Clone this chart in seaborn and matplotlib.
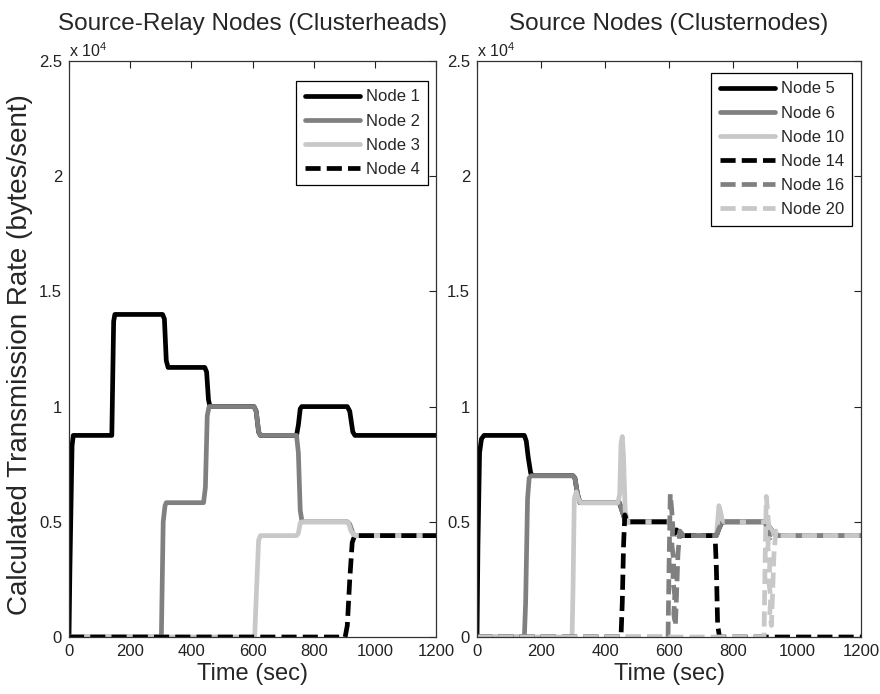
import numpy as np
import pandas as pd
import matplotlib
matplotlib.use("Agg")
import matplotlib.pyplot as plt
from matplotlib.ticker import FuncFormatter, MultipleLocator
import seaborn as sns

# ---- Source-relay nodes (clusterheads): time (s) / rate (bytes/s) ----
node1_t = [0, 3, 10, 14, 140, 146, 150, 306, 312, 318, 324, 444, 450, 456, 461,
           605, 612, 620, 626, 744, 750, 756, 761, 910, 918, 928, 935, 1200]
node1_v = [0, 3000, 8300, 8750, 8750, 13700, 14000, 14000, 13800, 12000, 11700,
           11700, 11500, 10300, 10000, 10000, 9800, 8900, 8750, 8750, 9200, 9900,
           10000, 10000, 9800, 8900, 8750, 8750]

node2_t = [0, 302, 308, 314, 318, 440, 446, 452, 458, 605, 612, 620, 626, 744,
           750, 756, 762, 910, 918, 928, 935, 1200]
node2_v = [0, 0, 5000, 5700, 5830, 5830, 6500, 9600, 10000, 10000, 9800, 8900,
           8750, 8750, 8000, 5500, 5000, 5000, 4900, 4500, 4400, 4400]

node3_t = [0, 607, 613, 620, 626, 744, 750, 756, 762, 908, 914, 922, 935, 1200]
node3_v = [0, 0, 2000, 4200, 4400, 4400, 4500, 4950, 5000, 5000, 4950, 4600,
           4400, 4400]

node4_t = [0, 903, 910, 918, 926, 934, 1200]
node4_v = [0, 0, 500, 2500, 4100, 4400, 4400]

# ---- Source nodes (clusternodes) ----
shared_t = [600, 612, 625, 640, 748, 756, 764, 772, 900, 912, 928, 942, 1200]
shared_v = [5000, 4700, 4450, 4400, 4400, 4700, 4950, 5000, 5000, 4800, 4500,
            4400, 4400]

node5_t = [0, 3, 8, 14, 22, 148, 154, 160, 168, 175, 300, 306, 314, 322, 445,
           455, 462, 468] + shared_t
node5_v = [0, 4000, 8000, 8600, 8750, 8750, 8500, 7800, 7100, 7000, 7000, 6900,
           6200, 5830, 5830, 5400, 5100, 5000] + shared_v

node6_t = [0, 148, 152, 158, 163, 170, 300, 306, 314, 322, 445, 455, 462,
           468] + shared_t
node6_v = [0, 0, 1500, 6000, 6900, 7000, 7000, 6900, 6200, 5830, 5830, 5400,
           5100, 5000] + shared_v

node10_t = [0, 297, 300, 304, 310, 316, 324, 440, 446, 450, 454, 458, 463, 470,
            600, 612, 625, 640, 748, 752, 756, 760, 766, 772, 900, 912, 928,
            942, 1200]
node10_v = [0, 0, 2000, 6000, 6300, 6000, 5830, 5830, 6200, 8400, 8700, 7800,
            5500, 5000, 5000, 4700, 4450, 4400, 4400, 5000, 5700, 5500, 5100,
            5000, 5000, 4800, 4500, 4400, 4400]

node14_t = [0, 450, 454, 458, 462, 466, 472, 600, 610, 618, 624, 630, 744, 748,
            752, 758, 1200]
node14_v = [0, 0, 1500, 4000, 5300, 5100, 5000, 5000, 4800, 4500, 4650, 4400,
            4400, 3000, 500, 0, 0]

node16_t = [0, 597, 600, 604, 608, 612, 609, 615, 612, 618, 615, 620, 624, 628,
            634, 645, 748, 756, 764, 772, 900, 908, 916, 924, 932, 942, 1200]
node16_v = [0, 0, 3000, 6200, 5600, 4800, 4000, 3300, 2500, 1800, 1000, 500,
            2000, 3600, 4600, 4400, 4400, 4700, 4950, 5000, 5000, 4600, 4300,
            4500, 4450, 4400, 4400]

node20_t = [0, 897, 900, 904, 908, 912, 909, 915, 912, 918, 915, 920, 924, 928,
            934, 945, 1200]
node20_v = [0, 0, 3000, 6100, 5500, 4700, 3900, 3200, 2400, 1700, 1000, 500,
            2000, 3600, 4600, 4400, 4400]

left_series = [("Node 1", node1_t, node1_v), ("Node 2", node2_t, node2_v),
               ("Node 3", node3_t, node3_v), ("Node 4", node4_t, node4_v)]
right_series = [("Node 5", node5_t, node5_v), ("Node 6", node6_t, node6_v),
                ("Node 10", node10_t, node10_v), ("Node 14", node14_t, node14_v),
                ("Node 16", node16_t, node16_v), ("Node 20", node20_t, node20_v)]

# ---- styling ----
sns.set_theme(style="white")
plt.rcParams["font.family"] = ["Liberation Sans", "DejaVu Sans"]
plt.rcParams["mathtext.fontset"] = "custom"
plt.rcParams["mathtext.rm"] = "Liberation Sans"

greys = ["#000000", "#808080", "#c8c8c8"]
DASH = (3.2, 1.3)
LW = 3.4

fig = plt.figure(figsize=(8.8, 6.94), dpi=100)
ax1 = fig.add_axes([69 / 880, 1 - 637 / 694, 367 / 880, 576 / 694])
ax2 = fig.add_axes([477 / 880, 1 - 637 / 694, 384 / 880, 576 / 694])


def draw(ax, series, legend_anchor):
    for i, (name, t, v) in enumerate(series):
        df = pd.DataFrame({"Time": t, "Rate": v})
        sns.lineplot(data=df, x="Time", y="Rate", ax=ax, color=greys[i % 3],
                     lw=LW, estimator=None, sort=False, label=name,
                     solid_joinstyle="round", dash_capstyle="butt")
        if i >= 3:
            ax.lines[-1].set_dashes(DASH)
    ax.set_xlim(0, 1200)
    ax.set_ylim(0, 25000)
    ax.xaxis.set_major_locator(MultipleLocator(200))
    ax.yaxis.set_major_locator(MultipleLocator(5000))
    ax.yaxis.set_major_formatter(FuncFormatter(lambda y, _: f"{y / 1e4:g}"))
    ax.tick_params(direction="in", top=True, right=True, length=5, width=0.8,
                   labelsize=12, colors="#222222", pad=5)
    for s in ax.spines.values():
        s.set_color("#333333")
        s.set_linewidth(0.9)
    ax.set_xlabel("Time (sec)", fontsize=17, labelpad=3)
    ax.set_ylabel("")
    ax.annotate(r"x 10$^{4}$", xy=(0, 1), xycoords="axes fraction",
                xytext=(0, 3), textcoords="offset points", ha="left",
                va="baseline", fontsize=11.5, color="#222222")
    leg = ax.legend(loc="upper right", bbox_to_anchor=legend_anchor,
                    fontsize=12, frameon=True, fancybox=False,
                    edgecolor="black", framealpha=1, handlelength=3.3,
                    handletextpad=0.35, borderpad=0.5, labelspacing=0.55,
                    borderaxespad=0)
    leg.get_frame().set_linewidth(0.9)
    for h in leg.get_lines():
        h.set_linewidth(LW)


draw(ax1, left_series, (0.978, 0.965))
draw(ax2, right_series, (0.977, 0.979))

ax1.set_title("Source-Relay Nodes (Clusterheads)", fontsize=17.5, pad=22)
ax2.set_title("Source Nodes (Clusternodes)", fontsize=17.5, pad=22)
ax1.set_ylabel("Calculated Transmission Rate (bytes/sent)", fontsize=20,
               labelpad=0)
ax1.yaxis.set_label_coords(-0.098, 0.49)

fig.savefig("out.png", dpi=100)
